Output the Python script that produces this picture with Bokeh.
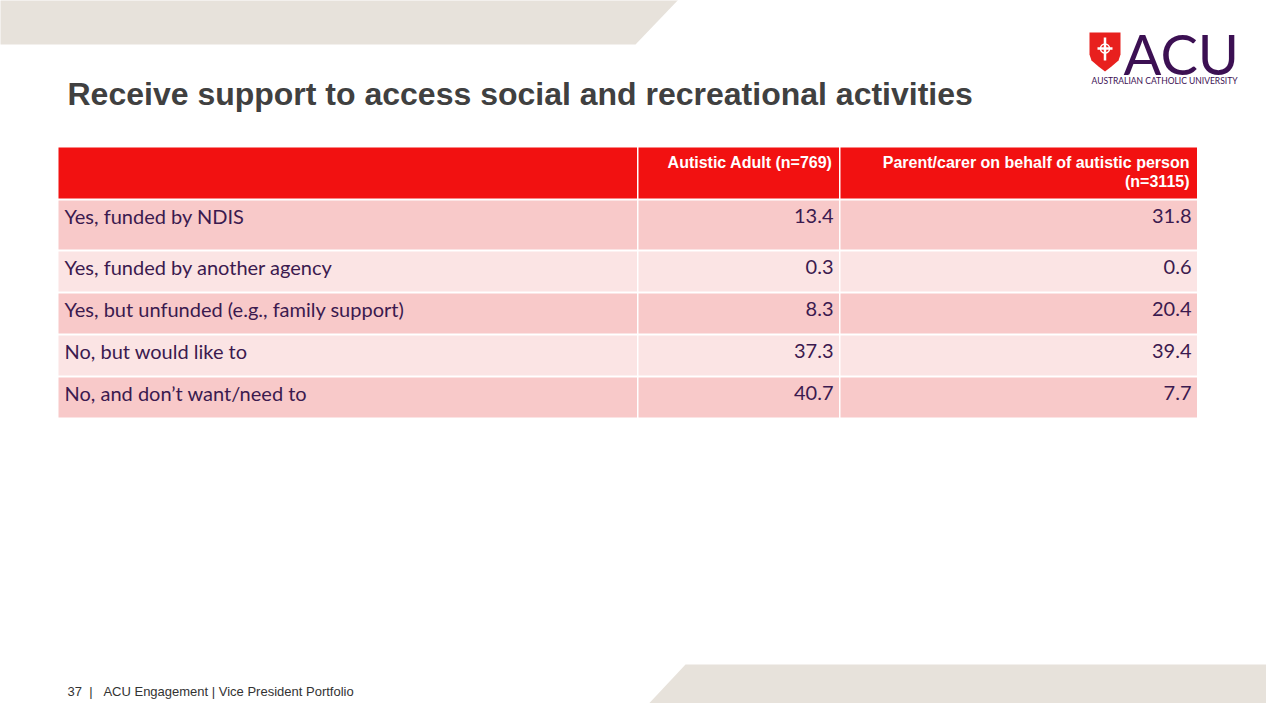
from bokeh.plotting import figure
from bokeh.models import Range1d, ColumnDataSource
from bokeh.core.properties import value
from bokeh.embed import file_html
from bokeh.resources import INLINE

# ---- data ----
title = "Receive support to access social and recreational activities"
col_headers = ["Autistic Adult (n=769)", "Parent/carer on behalf of autistic person\n(n=3115)"]
categories = [
    "Yes, funded by NDIS",
    "Yes, funded by another agency",
    "Yes, but unfunded (e.g., family support)",
    "No, but would like to",
    "No, and don\u2019t want/need to",
]
autistic_adult = [13.4, 0.3, 8.3, 37.3, 40.7]
parent_carer = [31.8, 0.6, 20.4, 39.4, 7.7]
footer = "37\u00a0\u00a0|\u00a0\u00a0\u00a0ACU Engagement | Vice President Portfolio"

# ---- figure in screen-pixel coordinates (page margin 8px) ----
W, H = 1266, 703
p = figure(width=W, height=H, output_backend="svg", toolbar_location=None,
           x_range=Range1d(8, 8 + W), y_range=Range1d(8 + H, 8),
           min_border=0)
p.axis.visible = False
p.grid.visible = False
p.outline_line_color = None
p.background_fill_color = "white"
p.border_fill_color = "white"

BAND = "#E7E2DB"
# top-left decorative band
p.patch([0, 688, 643, 0], [5, 5, 52, 52], fill_color=BAND, line_color=None)
# bottom-right decorative band
p.patch([693, 1290, 1290, 648], [672, 672, 720, 720], fill_color=BAND, line_color=None)

# logo
PURPLE = "#3C1053"
p.patch([1097, 1128, 1128, 1126, 1119, 1112.5, 1106, 1099, 1097],
        [40, 40, 62, 68, 74, 79, 74, 68, 62], fill_color="#E8201E", line_color=None)
p.segment(x0=[1112.5, 1105], y0=[45, 56], x1=[1112.5, 1120], y1=[68, 56],
          line_color="white", line_width=2.5)
p.scatter(x=[1112.5], y=[56], size=9, marker="circle", fill_color=None,
          line_color="white", line_width=1.5)
p.text(x=[1131], y=[61], text=["ACU"], text_font=value("Lato"), text_font_size="56px",
       text_color=PURPLE, text_baseline="middle", text_align="left")
p.text(x=[1172], y=[88], text=["AUSTRALIAN CATHOLIC UNIVERSITY"], text_font=value("Lato"),
       text_font_size="8.5px", text_color=PURPLE, text_baseline="middle", text_align="center")

# title
p.text(x=[75], y=[101], text=[title], text_font=value("Liberation Sans"),
       text_font_style="bold", text_font_size="32px", text_color="#404040",
       text_baseline="middle", text_align="left")

# ---- table ----
col_x = [66, 646, 848, 1206]
header_top, header_bot = 155, 206
row_tops = [208, 259, 301, 343, 385]
row_bots = [257, 299, 341, 383, 425]
row_colors = ["#F8C9C9", "#FBE4E4"]

# header
p.quad(left=col_x[:3], right=[c - 1.5 for c in col_x[1:]],
       top=[header_top] * 3, bottom=[header_bot] * 3,
       fill_color="#F21111", line_color=None)

# body rows
left, right, top, bottom, colors = [], [], [], [], []
for i, (t, b) in enumerate(zip(row_tops, row_bots)):
    for j in range(3):
        left.append(col_x[j])
        right.append(col_x[j + 1] - 1.5)
        top.append(t)
        bottom.append(b)
        colors.append(row_colors[i % 2])
p.quad(left=left, right=right, top=top, bottom=bottom, fill_color=colors, line_color=None)

# header text
p.text(x=[col_x[2] - 8], y=[170], text=[col_headers[0]], text_font=value("Liberation Sans"),
       text_font_style="bold", text_font_size="16px", text_color="white",
       text_baseline="middle", text_align="right")
hdr2 = col_headers[1].split("\n")
p.text(x=[col_x[3] - 9] * 2, y=[170, 189], text=hdr2, text_font=value("Liberation Sans"),
       text_font_style="bold", text_font_size="16px", text_color="white",
       text_baseline="middle", text_align="right")

# body text
TXT = "#3B1A4F"
ys = [t + 15 for t in row_tops]
src = ColumnDataSource(dict(
    y=ys, cat=categories,
    a=[f"{v:.1f}" for v in autistic_adult],
    b=[f"{v:.1f}" for v in parent_carer],
))
common = dict(text_font=value("Lato"), text_font_size="20px", text_color=TXT,
              text_baseline="middle", source=src)
p.text(x=72, y="y", text="cat", text_align="left", **common)
p.text(x=col_x[2] - 7, y="y", text="a", text_align="right", **common)
p.text(x=col_x[3] - 7, y="y", text="b", text_align="right", **common)

# footer
p.text(x=[75], y=[699], text=[footer], text_font=value("Liberation Sans"),
       text_font_size="13px", text_color="#333333", text_baseline="middle",
       text_align="left")

open("out.html", "w").write(file_html(p, INLINE))
